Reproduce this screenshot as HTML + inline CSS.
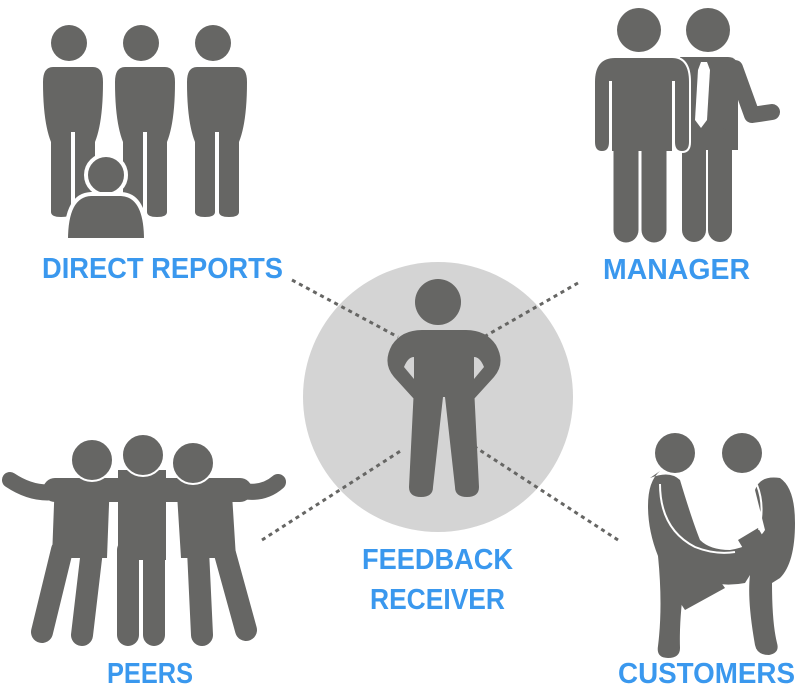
<!DOCTYPE html>
<html><head><meta charset="utf-8"><style>
html,body{margin:0;padding:0;background:#fff;}
svg{display:block}
text{font-family:"Liberation Sans",sans-serif;fill:#3a98ee;font-size:29px;font-weight:bold}
</style></head><body>
<svg width="800" height="700" viewBox="0 0 800 700" xmlns="http://www.w3.org/2000/svg">
<circle cx="438" cy="397" r="135" fill="#d4d4d4"/>
<g stroke="#666664" stroke-width="3" stroke-dasharray="4 4" fill="none">
<line x1="292" y1="280" x2="398" y2="337"/>
<line x1="578" y1="283" x2="482" y2="338"/>
<line x1="262" y1="540" x2="402" y2="450"/>
<line x1="618" y1="540" x2="475" y2="447"/>
</g>
<g fill="#666664">
<!-- direct reports -->
<circle cx="69" cy="43" r="18"/><circle cx="141" cy="43" r="18"/><circle cx="213" cy="43" r="18"/>
<path d="M45 67 h48 q10 0 10 15 q0 40 -8 60 v70 q0 5 -10 5 q-10 0 -10 -5 v-80 h-4 v80 q0 5 -10 5 q-10 0 -10 -5 v-70 q-8 -20 -8 -60 q0 -15 10 -15z"/>
<path d="M117 67 h48 q10 0 10 15 q0 40 -8 60 v70 q0 5 -10 5 q-10 0 -10 -5 v-80 h-4 v80 q0 5 -10 5 q-10 0 -10 -5 v-70 q-8 -20 -8 -60 q0 -15 10 -15z"/>
<path d="M189 67 h48 q10 0 10 15 q0 40 -8 60 v70 q0 5 -10 5 q-10 0 -10 -5 v-80 h-4 v80 q0 5 -10 5 q-10 0 -10 -5 v-70 q-8 -20 -8 -60 q0 -15 10 -15z"/>
<circle cx="106" cy="175" r="20" stroke="#fff" stroke-width="4"/>
<path d="M66 240 q0 -45 25 -46 h30 q25 1 25 46z" stroke="#fff" stroke-width="4"/>
<!-- manager right man -->
<circle cx="708" cy="30" r="22"/>
<path d="M680 57 h48 q10 0 10 12 v81 h-58z"/>
<path d="M735 68 L752 115 L772 112" stroke="#666664" stroke-width="16" stroke-linejoin="round" stroke-linecap="round" fill="none"/>
<path d="M701 62 l6 0 l3 8 l-3 50 l-6 8 l-6 -8 l3 -50z" fill="#fff"/>
<g stroke="#666664" stroke-linecap="round" stroke-width="24"><line x1="694" y1="140" x2="694" y2="230"/><line x1="720" y1="140" x2="720" y2="230"/></g>
<!-- manager left man -->
<circle cx="639" cy="30" r="22"/>
<path d="M607 57 h65 q18 0 18 25 v60 q0 10 -8 10 q-8 0 -8 -10 v-60 h-1 v70 h-62 v-70 h-1 v60 q0 10 -8 10 q-8 0 -8 -10 v-60 q0 -25 21 -25z" stroke="#fff" stroke-width="2"/>
<g stroke="#666664" stroke-linecap="round" stroke-width="25"><line x1="626" y1="140" x2="626" y2="230"/><line x1="654" y1="140" x2="654" y2="230"/></g>
<!-- center -->
<circle cx="438" cy="302" r="23"/>
<path d="M410 330 h56 q20 0 30 15 q10 18 -2 32 l-20 22 v-20 l10 -12 q-4 -10 -10 -10 v30 l5 100 q0 10 -12 10 q-12 0 -12 -10 l-10 -90 h-2 l-10 90 q0 10 -12 10 q-12 0 -12 -10 l5 -100 v-30 q-6 0 -10 10 l10 12 v20 l-20 -22 q-12 -14 -2 -32 q10 -15 30 -15z"/>
<!-- peers -->
<g stroke="#666664" stroke-linecap="round" fill="none">
<path d="M10 480 Q40 500 70 488" stroke-width="16"/>
<path d="M230 488 Q260 498 278 482" stroke-width="16"/>
<path d="M55 490 L240 490" stroke-width="24"/>
<line x1="62" y1="550" x2="42" y2="632" stroke-width="22"/>
<line x1="92" y1="550" x2="82" y2="635" stroke-width="22"/>
<line x1="128" y1="550" x2="128" y2="635" stroke-width="22"/>
<line x1="154" y1="550" x2="154" y2="635" stroke-width="22"/>
<line x1="198" y1="550" x2="202" y2="635" stroke-width="22"/>
<line x1="224" y1="550" x2="246" y2="630" stroke-width="22"/>
</g>
<path d="M55 478 h55 l-3 80 h-55z"/>
<path d="M118 470 h48 v90 h-48z"/>
<path d="M176 478 h55 l5 80 h-55z"/>
<circle cx="92" cy="460" r="21" stroke="#fff" stroke-width="2"/><circle cx="193" cy="463" r="21" stroke="#fff" stroke-width="2"/><circle cx="143" cy="455" r="21" stroke="#fff" stroke-width="2"/>
<!-- customers -->
<circle cx="675" cy="453" r="20"/><circle cx="742" cy="453" r="20"/>
<path d="M650 478 q20 -8 30 2 q12 40 20 60 q10 10 30 10 q25 -4 35 -20 l-10 -40 q5 -15 25 -12 q15 10 15 45 q0 40 -15 55 l-8 5 q0 40 5 60 q3 10 -8 12 q-12 0 -14 -10 q-8 -45 -5 -70 l-5 8 q-25 5 -50 -5 l-10 0 q-6 40 -5 70 q0 10 -12 10 q-12 0 -10 -12 q5 -40 0 -90 q-10 -25 -10 -50 q0 -25 12 -35z"/>
<path d="M665 580 l40 -20 l20 28 l-40 22z"/>
<path d="M738 540 l20 -12 l15 25 l-20 12z"/>
</g>
<path d="M660 484 q0 45 35 63 q20 8 40 5" stroke="#fff" stroke-width="2" fill="none"/>
<path d="M757 485 q8 20 2 45" stroke="#fff" stroke-width="2" fill="none"/>
<text x="42" y="278" textLength="241" lengthAdjust="spacingAndGlyphs">DIRECT REPORTS</text>
<text x="603" y="279" textLength="147" lengthAdjust="spacingAndGlyphs">MANAGER</text>
<text x="362" y="569" textLength="151" lengthAdjust="spacingAndGlyphs">FEEDBACK</text>
<text x="370" y="609" textLength="135" lengthAdjust="spacingAndGlyphs">RECEIVER</text>
<text x="107" y="683" textLength="86" lengthAdjust="spacingAndGlyphs">PEERS</text>
<text x="618" y="683" textLength="177" lengthAdjust="spacingAndGlyphs">CUSTOMERS</text>
</svg>
</body></html>
